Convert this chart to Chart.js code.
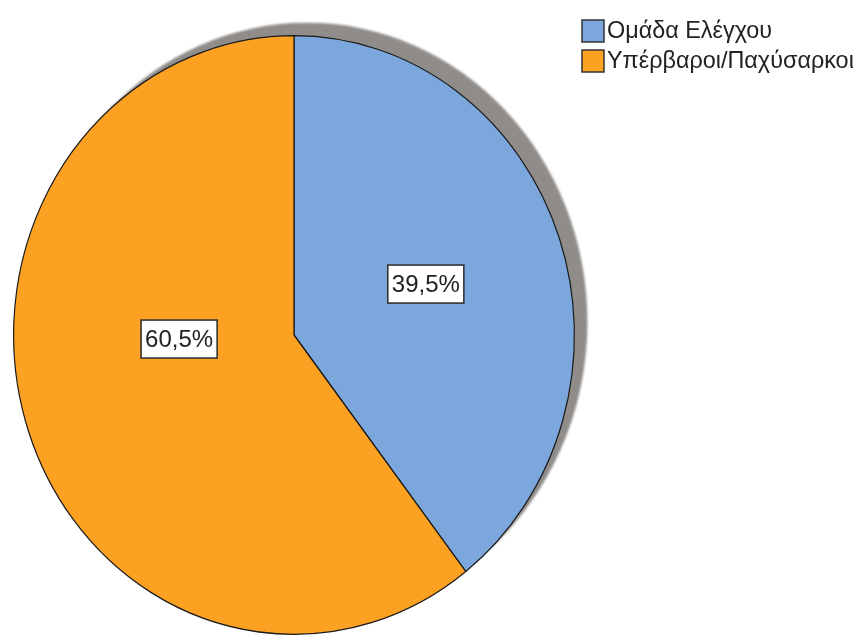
<!DOCTYPE html>
<html>
<head>
<meta charset="utf-8">
<script src="https://cdn.jsdelivr.net/npm/chart.js"></script>
<style>
  html, body { margin: 0; padding: 0; background: #fff; }
</style>
</head>
<body>
<canvas id="pieChart" width="860" height="637"></canvas>
<script>
// group shares (%)
var groupLabels = ['Ομάδα Ελέγχου', 'Υπέρβαροι/Παχύσαρκοι'];
var groupShares = [39.5, 60.5];
var groupColors = ['#7ba7dc', '#fda123'];

var ySquash = 300 / 281;   // the pie is a bit taller than wide
var labelFont = '24px "Liberation Sans", Arial, sans-serif';
var legendFont = '23.4px "Liberation Sans", Arial, sans-serif';

// label placement inside each slice: extra turn (deg) and fraction of radius
var labelTurn = [-1, 17];
var labelDepth = [0.5, 0.41];

var ellipsePie = {
    id: 'ellipsePie',
    beforeDatasetsDraw: function (chart) {
        var arc = chart.getDatasetMeta(0).data[0];
        var ctx = chart.ctx;
        ctx.save();
        // grey drop shadow behind the pie
        ctx.fillStyle = '#8f8c89';
        ctx.filter = 'blur(1px)';
        ctx.beginPath();
        ctx.ellipse(arc.x + 13, arc.y - 13, arc.outerRadius, arc.outerRadius * ySquash, 0, 0, Math.PI * 2);
        ctx.fill();
        ctx.filter = 'none';
        // stretch the slices vertically
        ctx.translate(arc.x, arc.y);
        ctx.scale(1, ySquash);
        ctx.translate(-arc.x, -arc.y);
    },
    afterDatasetsDraw: function (chart) {
        var ctx = chart.ctx;
        ctx.restore();

        var arcs = chart.getDatasetMeta(0).data;
        ctx.save();
        ctx.font = labelFont;
        ctx.textAlign = 'center';
        ctx.textBaseline = 'middle';
        for (var i = 0; i < arcs.length; i++) {
            var a = arcs[i];
            var mid = (a.startAngle + a.endAngle) / 2 + labelTurn[i] * Math.PI / 180;
            var x = a.x + Math.cos(mid) * a.outerRadius * labelDepth[i];
            var y = a.y + Math.sin(mid) * a.outerRadius * labelDepth[i] * ySquash;
            var txt = groupShares[i].toFixed(1).replace('.', ',') + '%';
            var w = ctx.measureText(txt).width + 8;
            var h = 38;
            ctx.fillStyle = '#ffffff';
            ctx.fillRect(x - w / 2, y - h / 2, w, h);
            ctx.strokeStyle = '#2a2a2a';
            ctx.lineWidth = 1.5;
            ctx.strokeRect(x - w / 2, y - h / 2, w, h);
            ctx.fillStyle = '#222222';
            ctx.fillText(txt, x, y + 1);
        }
        ctx.restore();
    },
    afterDraw: function (chart) {
        // legend, top right
        var ctx = chart.ctx;
        ctx.save();
        ctx.font = legendFont;
        ctx.textBaseline = 'middle';
        for (var i = 0; i < groupLabels.length; i++) {
            var top = 20 + i * 30;
            ctx.fillStyle = groupColors[i];
            ctx.fillRect(582, top, 22, 22);
            ctx.strokeStyle = '#333333';
            ctx.lineWidth = 1.5;
            ctx.strokeRect(582, top, 22, 22);
            ctx.fillStyle = '#222222';
            ctx.fillText(groupLabels[i], 607, top + 12);
        }
        ctx.restore();
    }
};

var pieChart = new Chart(document.getElementById('pieChart'), {
    type: 'pie',
    data: {
        labels: groupLabels,
        datasets: [{
            data: groupShares,
            backgroundColor: groupColors,
            borderColor: '#1a1a1a',
            borderWidth: 1.2,
            clip: false
        }]
    },
    options: {
        responsive: false,
        animation: false,
        layout: {
            padding: { left: 13, right: 285, top: 54, bottom: 21 }
        },
        plugins: {
            legend: { display: false },
            tooltip: { enabled: false }
        }
    },
    plugins: [ellipsePie]
});
</script>
</body>
</html>
